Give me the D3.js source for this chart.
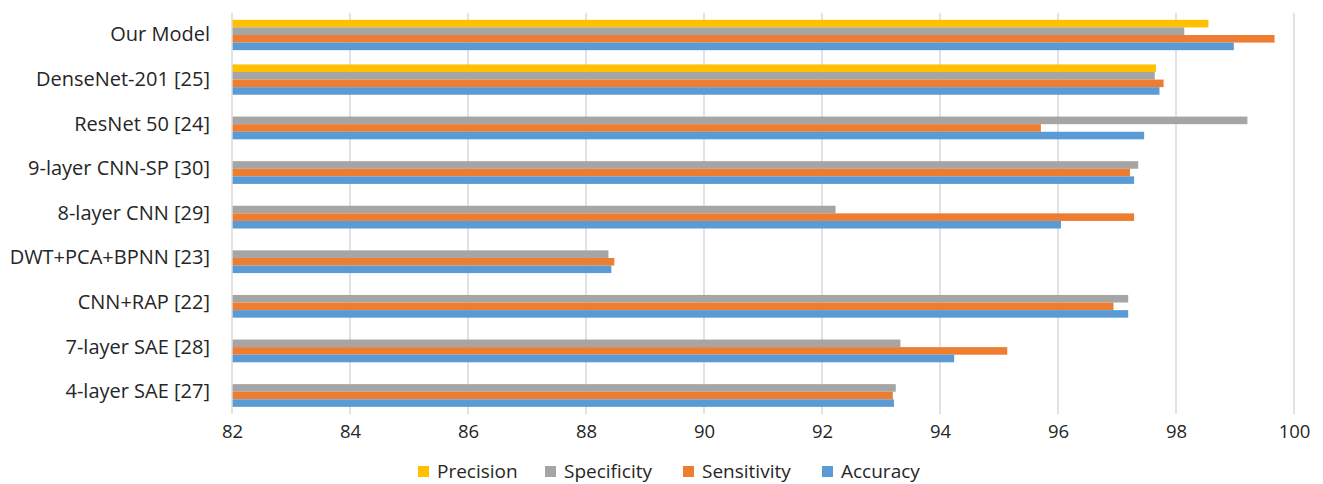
<!DOCTYPE html>
<html>
<head>
<meta charset="utf-8">
<script src="https://cdn.jsdelivr.net/npm/d3@7"></script>
<style>
  html, body { margin: 0; padding: 0; background: #fff; }
  svg { display: block; font-family: "Open Sans", "Noto Sans", sans-serif; }
</style>
</head>
<body>
<svg id="chart" width="1323" height="484"></svg>
<script>
const categories = ["Our Model", "DenseNet-201 [25]", "ResNet 50 [24]", "9-layer CNN-SP [30]",
  "8-layer CNN [29]", "DWT+PCA+BPNN [23]", "CNN+RAP [22]", "7-layer SAE [28]", "4-layer SAE [27]"];
const seriesNames = ["Precision", "Specificity", "Sensitivity", "Accuracy"];
const seriesColors = ["#FFC000", "#A5A5A5", "#ED7D31", "#5B9BD5"];
const precision   = [98.55, 97.66, null, null, null, null, null, null, null];
const specificity = [98.14, 97.64, 99.21, 97.36, 92.23, 88.38, 97.19, 93.33, 93.25];
const sensitivity = [99.67, 97.79, 95.71, 97.22, 97.29, 88.48, 96.94, 95.14, 93.20];
const accuracy    = [98.98, 97.72, 97.46, 97.29, 96.05, 88.43, 97.19, 94.24, 93.22];
const xTicks = [82, 84, 86, 88, 90, 92, 94, 96, 98, 100];

const seriesValues = [precision, specificity, sensitivity, accuracy];

const svg = d3.select("#chart");
const plot = { left: 232, right: 1294, top: 12.7, bottom: 414 };

const x = d3.scaleLinear().domain([82, 100]).range([plot.left, plot.right]);
const y0 = d3.scaleBand().domain(categories).range([plot.top, plot.bottom])
  .paddingInner(0.32).paddingOuter(0.16);
const y1 = d3.scaleBand().domain(seriesNames).range([0, y0.bandwidth()]);

// gridlines
svg.append("g").selectAll("line").data(xTicks.slice(1)).join("line")
  .attr("x1", d => x(d)).attr("x2", d => x(d))
  .attr("y1", plot.top).attr("y2", plot.bottom)
  .attr("stroke", "#D9D9D9").attr("stroke-width", 1.5);

// bars
const rows = [];
categories.forEach((c, i) => {
  seriesNames.forEach((s, j) => {
    const v = seriesValues[j][i];
    if (v != null) rows.push({ c, s, v, color: seriesColors[j] });
  });
});
svg.append("g").selectAll("rect").data(rows).join("rect")
  .attr("x", x(82))
  .attr("y", d => y0(d.c) + y1(d.s))
  .attr("width", d => x(d.v) - x(82))
  .attr("height", y1.bandwidth())
  .attr("fill", d => d.color);

// vertical axis line
svg.append("line")
  .attr("x1", x(82)).attr("x2", x(82))
  .attr("y1", plot.top).attr("y2", plot.bottom)
  .attr("stroke", "#D9D9D9").attr("stroke-width", 1.5);

// x axis labels
const xAxis = d3.axisBottom(x).tickValues(xTicks).tickSize(0).tickPadding(11).tickFormat(d3.format("d"));
const gx = svg.append("g").attr("transform", `translate(0,${plot.bottom})`).call(xAxis);
gx.select(".domain").remove();
gx.selectAll("text").attr("font-size", 18.5).attr("fill", "#262626")
  .attr("font-family", "'Open Sans', sans-serif");

// y axis labels
const yAxis = d3.axisLeft(y0).tickSize(0).tickPadding(22);
const gy = svg.append("g").attr("transform", `translate(${plot.left},0)`).call(yAxis);
gy.select(".domain").remove();
gy.selectAll("text").attr("font-size", 20).attr("fill", "#262626")
  .attr("font-family", "'Open Sans', sans-serif");

// legend
const legendX = [418, 545, 683, 822];
const lg = svg.append("g").selectAll("g").data(seriesNames).join("g")
  .attr("transform", (d, i) => `translate(${legendX[i]},466)`);
lg.append("rect").attr("width", 11).attr("height", 11)
  .attr("fill", (d, i) => seriesColors[i]);
lg.append("text").attr("x", 19).attr("y", 11.5).text(d => d)
  .attr("font-size", 19).attr("fill", "#262626");
</script>
</body>
</html>
